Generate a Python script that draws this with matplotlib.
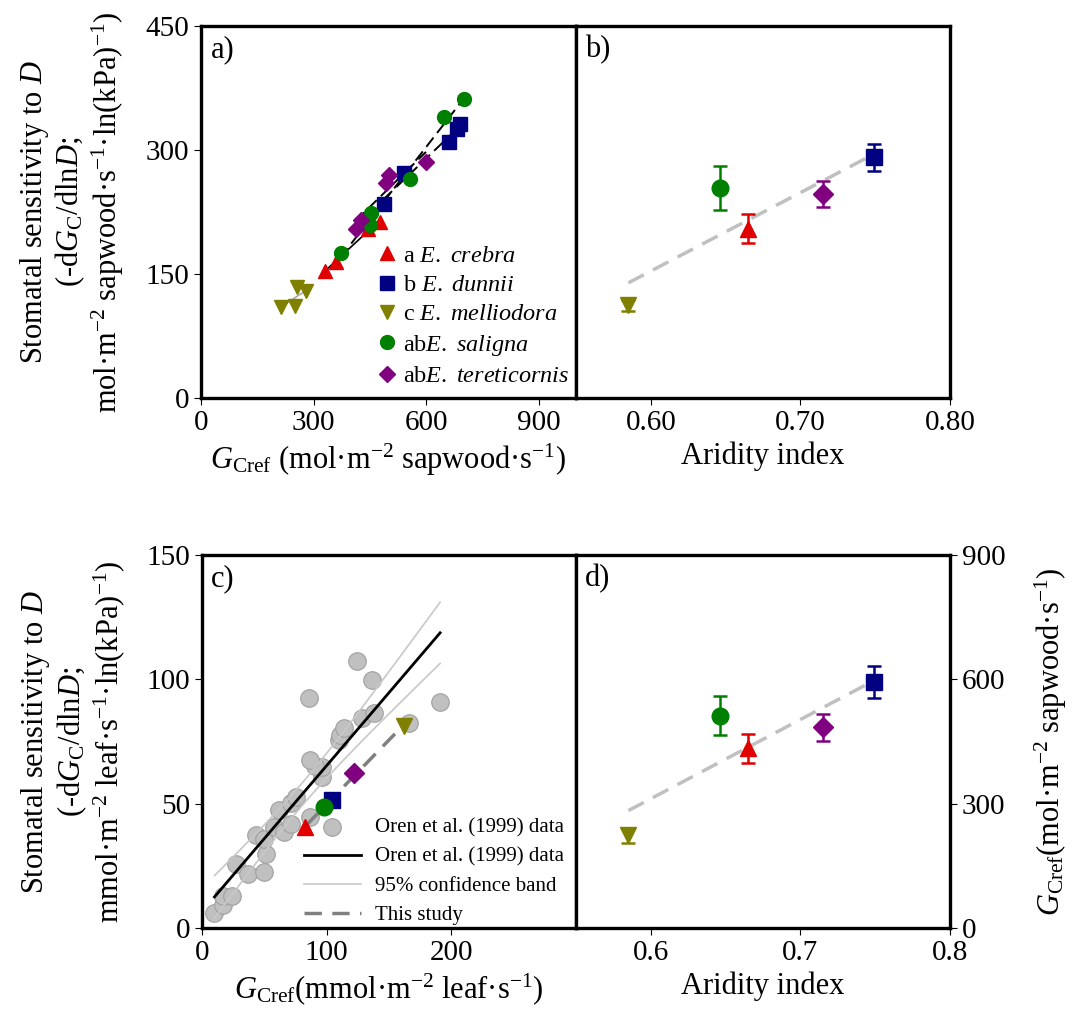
#Stomatal sensitivity to D vs G_Cref and aridity index (4 panels)
import matplotlib.pyplot as plt
import numpy as np

plt.rcParams['font.family'] = ['Liberation Serif', 'DejaVu Serif']
plt.rcParams['mathtext.fontset'] = 'custom'
plt.rcParams['mathtext.rm'] = 'Liberation Serif'
plt.rcParams['mathtext.it'] = 'Liberation Serif:italic'
plt.rcParams['mathtext.bf'] = 'Liberation Serif:bold'

#species info
species = ['E. crebra', 'E. dunnii', 'E. melliodora', 'E. saligna', 'E. tereticornis']
letters = ['a ', 'b ', 'c ', 'ab', 'ab']
colors = ['#e00000', '#000080', '#808000', '#008000', '#800080']
markers = ['^', 's', 'v', 'o', 'D']

#panel a: G_Cref (mol m-2 sapwood s-1) vs sensitivity, per tree
a_x = [[330, 359, 445, 478],
       [487, 540, 660, 683, 690],
       [212, 250, 256, 281],
       [372, 451, 453, 558, 647, 700],
       [413, 426, 493, 500, 600]]
a_y = [[153, 165, 205, 213],
       [235, 272, 310, 325, 332],
       [110, 111, 134, 129],
       [175, 209, 224, 265, 340, 362],
       [205, 215, 260, 270, 286]]

#panels b and d: species means vs aridity index
aridity = [0.665, 0.749, 0.585, 0.646, 0.715]
sens_mean = [205, 291, 112, 254, 247]
sens_err = [17, 16, 7, 27, 16]
gcref_mean = [434, 594, 224, 512, 484]
gcref_err = [35, 38, 18, 47, 33]

#panel c: Oren et al. (1999) data, leaf area basis
oren_x = [10, 17, 17, 27, 37, 50, 51, 43, 50, 58, 66, 71, 62, 71, 75, 87,
          96, 96, 91, 87, 110, 111, 114, 128, 138, 166, 86, 136, 124, 191, 24]
oren_y = [6.2, 9.3, 12.9, 25.7, 21.7, 22.4, 29.6, 37.4, 36, 40.7, 38.7, 42,
          47.5, 50.4, 52.8, 44.8, 60.9, 64.9, 65, 67.6, 75.6, 77.6, 80.3,
          84.4, 86.4, 82.3, 92.6, 99.8, 107.4, 91, 13]
#this study, species means on leaf area basis (same order as species)
c_x = [83, 104, 162, 98, 122]
c_y = [40.7, 51.5, 81.4, 48.8, 62.2]

fig = plt.figure(figsize=(10.86, 10.34), dpi=100)
ax_a = fig.add_axes([0.1851, 0.6151, 0.3453, 0.3598])
ax_b = fig.add_axes([0.5304, 0.6151, 0.3444, 0.3598])
ax_c = fig.add_axes([0.1860, 0.1025, 0.3444, 0.3607])
ax_d = fig.add_axes([0.5304, 0.1025, 0.3444, 0.3607])

fs = 21      # tick labels
lfs = 22     # axis labels
for ax in [ax_a, ax_b, ax_c, ax_d]:
    for s in ax.spines.values():
        s.set_linewidth(2.4)
    ax.tick_params(direction='out', length=5, width=0.8, labelsize=fs)

ylab_top = ('Stomatal sensitivity to $\\mathit{D}$\n'
            '(-d$\\mathit{G}_{\\rm C}$/dln$\\mathit{D}$;\n'
            'mol·m$^{-2}$ sapwood·s$^{-1}$·ln(kPa)$^{-1}$)')
ylab_bot = ('Stomatal sensitivity to $\\mathit{D}$\n'
            '(-d$\\mathit{G}_{\\rm C}$/dln$\\mathit{D}$;\n'
            'mmol·m$^{-2}$ leaf·s$^{-1}$·ln(kPa)$^{-1}$)')

#----- panel a
for i in range(5):
    xs = np.array(a_x[i])
    p = np.polyfit(xs, a_y[i], 1)
    xl = np.array([xs.min(), xs.max()])
    if i == 2:
        ax_a.plot(xl, np.polyval(p, xl), color='#aaaaaa', lw=1.2, zorder=2)
    elif i == 0:
        ax_a.plot(xl, np.polyval(p, xl), color='black', lw=1.2, zorder=2)
    else:
        ax_a.plot(xl, np.polyval(p, xl), color='black', lw=1.4, ls=(0, (6, 3)), zorder=2)
for i in range(5):
    ax_a.plot(a_x[i], a_y[i], ls='none', marker=markers[i], color=colors[i],
              ms=10 if markers[i] != 'D' else 8.5, zorder=3,
              label=letters[i] + r'$\mathit{' + species[i].replace(' ', r'\ ') + '}$')
ax_a.set_xlim(0, 1000)
ax_a.set_ylim(0, 450)
ax_a.set_xticks([0, 300, 600, 900])
ax_a.set_yticks([0, 150, 300, 450])
ax_a.legend(loc='lower left', bbox_to_anchor=(0.445, 0.0), frameon=False,
            fontsize=17.5, handlelength=0.7, handletextpad=0.3, labelspacing=0.3,
            borderaxespad=0.05)
ax_a.set_xlabel(r'$\mathit{G}_{\rm Cref}$ (mol·m$^{-2}$ sapwood·s$^{-1}$)', fontsize=lfs)
ax_a.set_ylabel(ylab_top, fontsize=lfs, linespacing=1.1, labelpad=14)
ax_a.text(0.025, 0.975, 'a)', transform=ax_a.transAxes, fontsize=lfs, va='top')

#----- panel b
p = np.polyfit(aridity, sens_mean, 1)
xl = np.array([min(aridity), max(aridity)])
ax_b.plot(xl, np.polyval(p, xl), color='#c0c0c0', lw=2.5, ls=(0, (5, 3)), zorder=1)
for i in range(5):
    ax_b.errorbar(aridity[i], sens_mean[i], yerr=sens_err[i], marker=markers[i],
                  color=colors[i], ms=12 if markers[i] != 'D' else 10, capsize=5,
                  elinewidth=1.8, capthick=1.8, zorder=3)
ax_b.set_xlim(0.55, 0.80)
ax_b.set_ylim(0, 450)
ax_b.set_xticks([0.60, 0.70, 0.80])
ax_b.set_xticklabels(['0.60', '0.70', '0.80'])
ax_b.set_yticks([])
ax_b.set_xlabel('Aridity index', fontsize=lfs)
ax_b.text(0.025, 0.975, 'b)', transform=ax_b.transAxes, fontsize=lfs, va='top')

#----- panel c
ox = np.array(oren_x, dtype=float)
oy = np.array(oren_y, dtype=float)
n = len(ox)
p = np.polyfit(ox, oy, 1)
xl = np.linspace(ox.min(), ox.max(), 100)
resid = oy - np.polyval(p, ox)
s = np.sqrt(np.sum(resid ** 2) / (n - 2))
sxx = np.sum((ox - ox.mean()) ** 2)
band = 2.04 * s * np.sqrt(1.0 / n + (xl - ox.mean()) ** 2 / sxx)
ax_c.scatter(ox, oy, s=160, color='#c0c0c0', edgecolor='#a0a0a0', lw=0.8,
             zorder=2, label='Oren et al. (1999) data')
ax_c.plot(xl, np.polyval(p, xl), color='black', lw=2, zorder=3,
          label='Oren et al. (1999) data')
ax_c.plot(xl, np.polyval(p, xl) + band, color='#c8c8c8', lw=1.2, zorder=3,
          label='95% confidence band')
ax_c.plot(xl, np.polyval(p, xl) - band, color='#c8c8c8', lw=1.2, zorder=3)
p2 = np.polyfit(c_x, c_y, 1)
xl2 = np.array([min(c_x), max(c_x)])
ax_c.plot(xl2, np.polyval(p2, xl2), color='#808080', lw=2.5, ls=(0, (5, 3)),
          zorder=4, label='This study')
for i in range(5):
    ax_c.plot(c_x[i], c_y[i], ls='none', marker=markers[i], color=colors[i],
              ms=12 if markers[i] != 'D' else 10, zorder=5)
ax_c.set_xlim(0, 300)
ax_c.set_ylim(0, 150)
ax_c.set_xticks([0, 100, 200])
ax_c.set_yticks([0, 50, 100, 150])
ax_c.legend(loc='lower left', bbox_to_anchor=(0.24, -0.025), frameon=False,
            fontsize=15, handlelength=2.7, handletextpad=0.7, labelspacing=0.45,
            borderaxespad=0.2)
ax_c.set_xlabel(r'$\mathit{G}_{\rm Cref}$(mmol·m$^{-2}$ leaf·s$^{-1}$)', fontsize=lfs)
ax_c.set_ylabel(ylab_bot, fontsize=lfs, linespacing=1.1, labelpad=14)
ax_c.text(0.025, 0.975, 'c)', transform=ax_c.transAxes, fontsize=lfs, va='top')

#----- panel d
p = np.polyfit(aridity, gcref_mean, 1)
xl = np.array([min(aridity), max(aridity)])
ax_d.plot(xl, np.polyval(p, xl), color='#c0c0c0', lw=2.5, ls=(0, (5, 3)), zorder=1)
for i in range(5):
    ax_d.errorbar(aridity[i], gcref_mean[i], yerr=gcref_err[i], marker=markers[i],
                  color=colors[i], ms=12 if markers[i] != 'D' else 10, capsize=5,
                  elinewidth=1.8, capthick=1.8, zorder=3)
ax_d.set_xlim(0.55, 0.80)
ax_d.set_ylim(0, 900)
ax_d.set_xticks([0.6, 0.7, 0.8])
ax_d.set_xticklabels(['0.6', '0.7', '0.8'])
ax_d.yaxis.tick_right()
ax_d.yaxis.set_label_position('right')
ax_d.set_yticks([0, 300, 600, 900])
ax_d.set_xlabel('Aridity index', fontsize=lfs)
ax_d.set_ylabel(r'$\mathit{G}_{\rm Cref}$(mol·m$^{-2}$ sapwood·s$^{-1}$)',
                fontsize=lfs, labelpad=20)
ax_d.text(0.025, 0.975, 'd)', transform=ax_d.transAxes, fontsize=lfs, va='top')

fig.savefig('out.png', dpi=100)
